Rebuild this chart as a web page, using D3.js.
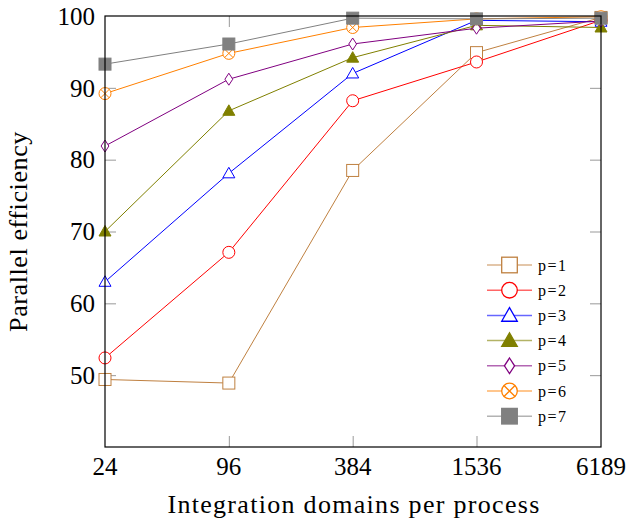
<!DOCTYPE html>
<meta charset="utf-8">
<script src="https://d3js.org/d3.v7.min.js"></script>
<style>
  body { margin: 0; background: #fff; }
  text { font-family: "Liberation Serif", "DejaVu Serif", serif; fill: #000; }
</style>
<div id="chart"></div>
<script>
  // x categories (integration domains per process)
  const domains = [24, 96, 384, 1536, 6189];
  const yTicks = [50, 60, 70, 80, 90, 100];

  // parallel efficiency per process count
  const p1 = [49.4, 48.9, 78.5, 94.9, 99.8];
  const p2 = [52.4, 67.1, 88.2, 93.6, 99.4];
  const p3 = [63.0, 78.1, 92.0, 99.4, 99.2];
  const p4 = [70.0, 86.8, 94.2, 98.7, 98.4];
  const p5 = [81.9, 91.2, 96.1, 98.3, 99.3];
  const p6 = [89.2, 94.8, 98.4, 99.6, 99.9];
  const p7 = [93.3, 96.1, 99.7, 99.6, 99.7];

  const series = [
    {name: "p=1", values: p1, color: "#bf8040", mark: "square"},
    {name: "p=2", values: p2, color: "#ff0000", mark: "circle"},
    {name: "p=3", values: p3, color: "#0000ff", mark: "triangle"},
    {name: "p=4", values: p4, color: "#808000", mark: "triangleFill"},
    {name: "p=5", values: p5, color: "#800080", mark: "diamond"},
    {name: "p=6", values: p6, color: "#ff8000", mark: "otimes"},
    {name: "p=7", values: p7, color: "#808080", mark: "squareFill"}
  ];

  const W = 627, H = 519;
  const margin = {top: 16, right: 26, bottom: 72, left: 105};
  const width = W - margin.left - margin.right,
        height = H - margin.top - margin.bottom;

  const svg = d3.select("#chart").append("svg")
      .attr("width", W).attr("height", H);
  const g = svg.append("g")
      .attr("transform", `translate(${margin.left},${margin.top})`);

  const x = d3.scaleLog().domain([24, 6189]).range([0, width]);
  const y = d3.scaleLinear().domain([40, 100]).range([height, 0]);

  // tick marks (inside, both sides)
  const tickLen = 11;
  const inner = domains.slice(1, -1);
  g.append("g").call(d3.axisBottom(x).tickValues(inner).tickSize(tickLen).tickFormat(""))
    .attr("transform", `translate(0,${height - tickLen})`)
    .call(a => a.select(".domain").remove())
    .call(a => a.selectAll("line").attr("stroke", "#999"));
  g.append("g").call(d3.axisTop(x).tickValues(inner).tickSize(tickLen).tickFormat(""))
    .attr("transform", `translate(0,${tickLen})`)
    .call(a => a.select(".domain").remove())
    .call(a => a.selectAll("line").attr("stroke", "#999"));
  g.append("g").call(d3.axisLeft(y).tickValues(yTicks.slice(0, -1)).tickSize(tickLen).tickFormat(""))
    .attr("transform", `translate(${tickLen},0)`)
    .call(a => a.select(".domain").remove())
    .call(a => a.selectAll("line").attr("stroke", "#999"));
  g.append("g").call(d3.axisRight(y).tickValues(yTicks.slice(0, -1)).tickSize(tickLen).tickFormat(""))
    .attr("transform", `translate(${width - tickLen},0)`)
    .call(a => a.select(".domain").remove())
    .call(a => a.selectAll("line").attr("stroke", "#999"));

  // tick labels
  g.append("g").selectAll("text").data(domains).join("text")
    .attr("x", d => x(d)).attr("y", height + 28)
    .attr("text-anchor", "middle").style("font-size", "25px")
    .text(d => d);
  g.append("g").selectAll("text").data(yTicks).join("text")
    .attr("x", -10).attr("y", d => y(d)).attr("dy", "0.35em")
    .attr("text-anchor", "end").style("font-size", "25px")
    .text(d => d);

  // axis titles
  g.append("text")
    .attr("x", width / 2 + 1).attr("y", height + 66)
    .attr("text-anchor", "middle").style("font-size", "26px")
    .style("letter-spacing", "1.3px")
    .text("Integration domains per process");
  g.append("text")
    .attr("transform", `translate(${-78},${height / 2}) rotate(-90)`)
    .attr("text-anchor", "middle").style("font-size", "26px")
    .style("letter-spacing", "0.6px")
    .text("Parallel efficiency");

  function marker(sel, mark, color) {
    const s = 6;
    if (mark === "square" || mark === "squareFill") {
      sel.append("rect").attr("x", -s).attr("y", -s).attr("width", 2 * s).attr("height", 2 * s)
        .attr("fill", mark === "squareFill" ? color : "#fff").attr("stroke", color);
    } else if (mark === "circle") {
      sel.append("circle").attr("r", s).attr("fill", "#fff").attr("stroke", color);
    } else if (mark === "triangle" || mark === "triangleFill") {
      sel.append("path").attr("d", `M0,${-s}L${s},${s * 0.75}L${-s},${s * 0.75}Z`)
        .attr("fill", mark === "triangleFill" ? color : "#fff").attr("stroke", color);
    } else if (mark === "diamond") {
      sel.append("path").attr("d", `M0,${-s}L${s * 0.65},0L0,${s}L${-s * 0.65},0Z`)
        .attr("fill", "#fff").attr("stroke", color);
    } else if (mark === "otimes") {
      const k = s * 0.707;
      sel.append("circle").attr("r", s).attr("fill", "#fff").attr("stroke", color);
      sel.append("path").attr("d", `M${-k},${-k}L${k},${k}M${-k},${k}L${k},${-k}`)
        .attr("stroke", color);
    }
  }

  const line = d3.line().x((d, i) => x(domains[i])).y(d => y(d));

  const plot = g.append("g");
  series.forEach(s => {
    plot.append("path").datum(s.values)
      .attr("d", line).attr("fill", "none")
      .attr("stroke", s.color).attr("stroke-width", 1);
    plot.selectAll(null).data(s.values).join("g")
      .attr("transform", (d, i) => `translate(${x(domains[i])},${y(d)})`)
      .each(function () { marker(d3.select(this), s.mark, s.color); });
  });

  // frame
  g.append("rect").attr("width", width).attr("height", height)
    .attr("fill", "none").attr("stroke", "#000").attr("stroke-width", 1.2);

  // legend
  const legend = g.append("g").attr("transform", `translate(${382},${249})`);
  series.forEach((s, i) => {
    const row = legend.append("g").attr("transform", `translate(0,${i * 25.2})`);
    row.append("line").attr("x1", 0).attr("x2", 45)
      .attr("stroke", s.color).attr("stroke-opacity", 0.6).attr("stroke-width", 1.5);
    row.append("g").attr("transform", "translate(22.5,0) scale(1.3)")
      .each(function () { marker(d3.select(this), s.mark, s.color); });
    row.append("text").attr("x", 51).attr("dy", "0.35em")
      .style("font-size", "16px").style("letter-spacing", "1.5px").text(s.name);
  });
</script>
